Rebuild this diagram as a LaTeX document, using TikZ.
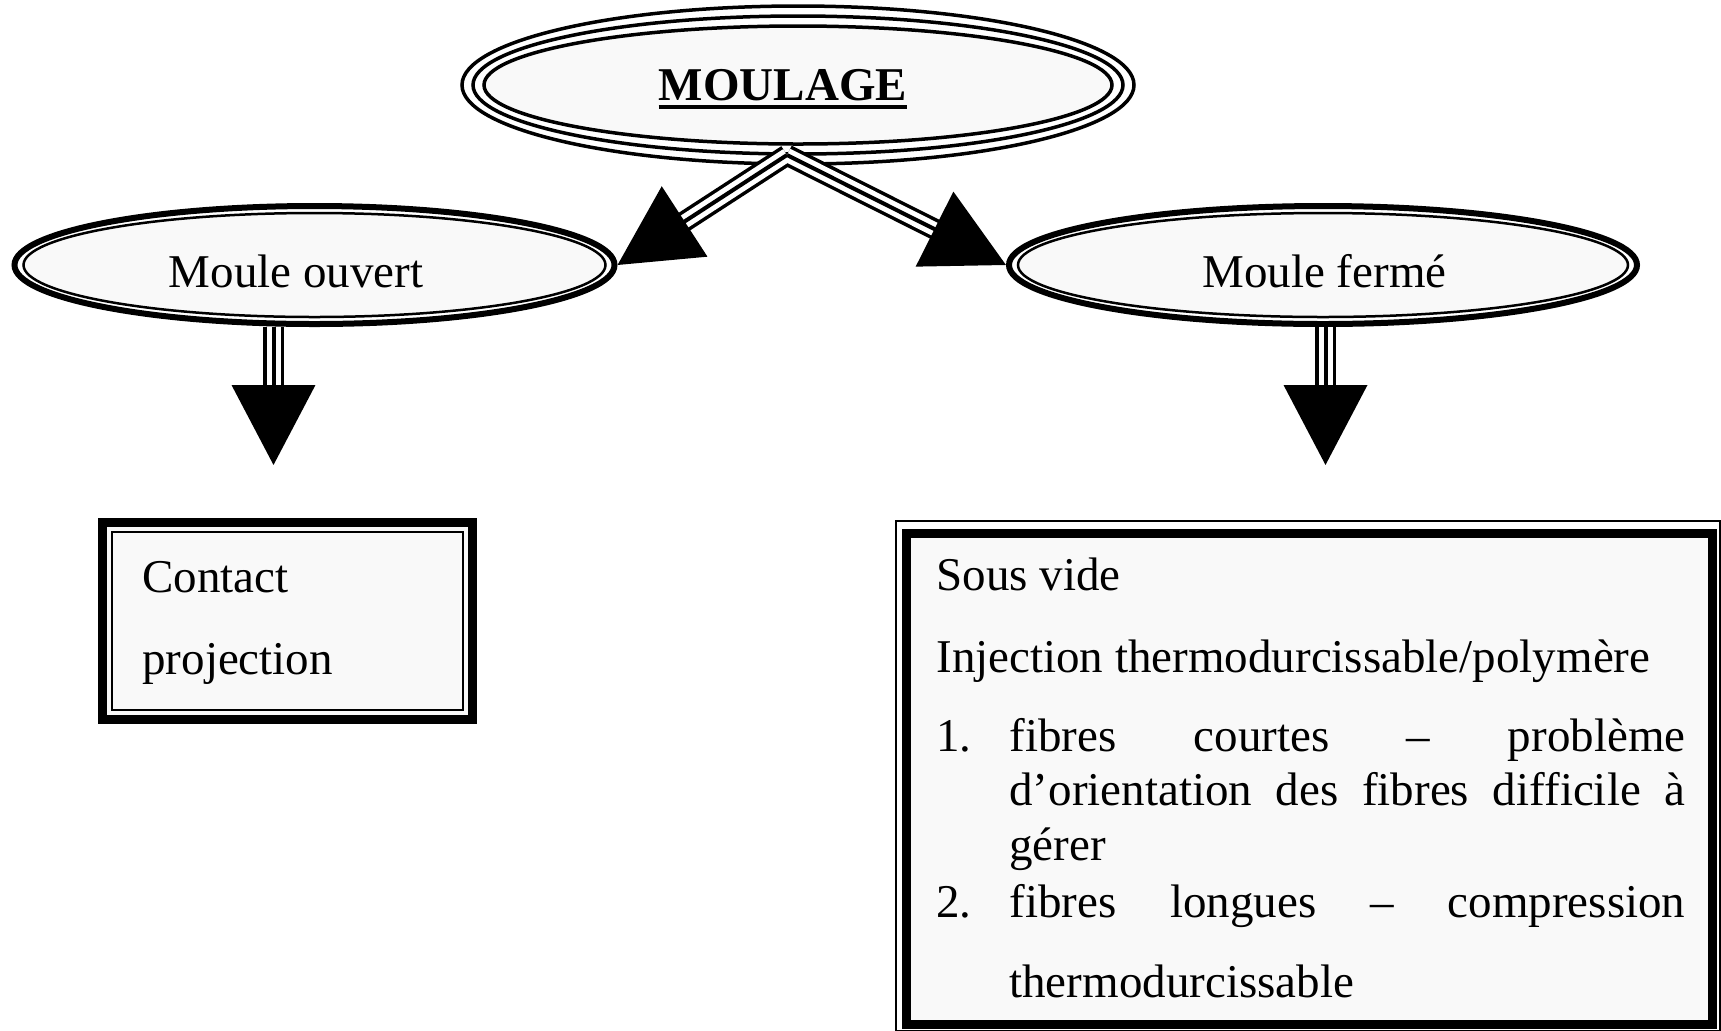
\documentclass[tikz,border=0pt]{standalone}
\usepackage{fontspec}
\setmainfont{Liberation Serif}
\usetikzlibrary{arrows.meta,shapes.geometric,calc}
\definecolor{paper}{RGB}{249,249,249}
\begin{document}
\begin{tikzpicture}[x=0.5pt,y=-0.5pt,
  font=\fontsize{23.5}{27.5}\selectfont,
  ring/.style={line width=1.75pt},
  bigoval/.style={ellipse, draw, line width=1.75pt, inner sep=0pt},
  oval/.style={ellipse, draw, line width=3pt, inner sep=0pt},
  thinring/.style={line width=1.25pt, fill=paper},
  lbl/.style={anchor=base, inner sep=0pt},
  txt/.style={anchor=base west, inner sep=0pt},
  boxthick/.style={draw, line width=4.5pt, fill=paper, inner sep=0pt, outer sep=0pt},
  boxthin/.style={line width=1pt},
  shaftA/.style={line width=10.5pt, shorten >=39pt},
  shaftB/.style={white, line width=7pt, shorten >=39pt},
  shaftC/.style={line width=2pt, -{Triangle[length=40pt,width=41.5pt]}}]
\useasboundingbox (0,0) rectangle (1721,1030);
\fill[white] (0,0) rectangle (1721,1030);
\clip (0,0) rectangle (1721,1030);

% MOULAGE
\node[bigoval, minimum width=336pt, minimum height=79pt] (moulage) at (798,85) {};
\draw[ring] (moulage.center) ellipse [x radius=325, y radius=69];
\filldraw[ring, fill=paper] (moulage.center) ellipse [x radius=314, y radius=59];
\node[lbl, font=\fontsize{23.5}{27.5}\selectfont\bfseries] (moulageT) at (783,100) {MOULAGE};
\draw[line width=2.25pt] ($(moulageT.base west)+(0,7)$) -- ($(moulageT.base east)+(0,7)$);

% Moule ouvert
\node[oval, minimum width=300pt, minimum height=59pt] (mo) at (314.5,265) {};
\filldraw[thinring] (mo.center) ellipse [x radius=291, y radius=52];
\node[lbl] (moT) at (296,287) {Moule ouvert};

% Moule fermé
\node[oval, minimum width=314pt, minimum height=59pt] (mf) at (1323,265) {};
\filldraw[thinring] (mf.center) ellipse [x radius=305, y radius=52];
\node[lbl] (mfT) at (1324.5,287) {Moule fermé};

% connector ends
\coordinate (split) at (787,155);
\coordinate (mostart) at ([xshift=-20.5pt]mo.south);
\coordinate (motip) at (273.5,465);
\coordinate (mfstart) at ([xshift=1.25pt]mf.south);
\coordinate (mftip) at (1325.5,465);

\foreach \a/\b in {split/mo.east, split/mf.west, mostart/motip, mfstart/mftip}
  \draw[shaftA] (\a) -- (\b);
\foreach \a/\b in {split/mo.east, split/mf.west, mostart/motip, mfstart/mftip}
  \draw[shaftB] (\a) -- (\b);
\foreach \a/\b in {split/mo.east, split/mf.west, mostart/motip, mfstart/mftip}
  \draw[shaftC] (\a) -- (\b);

% Contact box
\node[boxthick, minimum width=185pt, minimum height=98.5pt] (contact) at (287.5,621) {};
\draw[boxthin] ($(contact.north west)+(9.5,9.5)$) rectangle ($(contact.south east)+(-9.5,-9.5)$);
\node[txt] (c1) at (142,592) {Contact};
\node[txt] (c2) at (142,674) {projection};

% Right box
\node[boxthick, minimum width=403pt, minimum height=245.5pt] (fbox) at (1309.5,778.5) {};
\draw[boxthin] ($(fbox.north west)+(-10.5,-12)$) rectangle ($(fbox.south east)+(7,7)$);
\node[txt] (f1) at (936,590) {Sous vide};
\node[txt] (f2) at (936,672) {Injection thermodurcissable/polymère};
\node[txt] (n1) at (936,751) {1.};
\node[txt] (f3) at (1009,751) {\makebox[338pt][s]{fibres courtes – problème}};
\node[txt] (f4) at (1009,805) {\makebox[338pt][s]{d’orientation des fibres difficile à}};
\node[txt] (f5) at (1009,860) {gérer};
\node[txt] (n2) at (936,917) {2.};
\node[txt] (f6) at (1009,917) {\makebox[338pt][s]{fibres longues – compression}};
\node[txt] (f7) at (1009,997) {thermodurcissable};
\end{tikzpicture}
\end{document}
